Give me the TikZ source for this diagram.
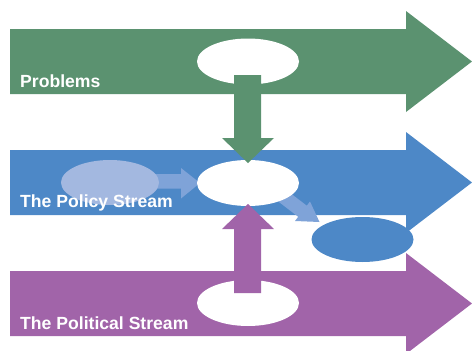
\documentclass[tikz,border=0pt]{standalone}
\usepackage{fontspec}
\setmainfont{Liberation Sans}
\usetikzlibrary{shapes.geometric}
\definecolor{cgreen}{RGB}{91,146,112}
\definecolor{cblue}{RGB}{77,136,199}
\definecolor{cpurple}{RGB}{161,100,169}
\definecolor{clightell}{RGB}{163,184,224}
\definecolor{clightarr}{RGB}{127,163,216}
\begin{document}
\begin{tikzpicture}[x=1pt,y=-1pt,
  blob/.style={ellipse,inner sep=0pt,minimum width=102pt,minimum height=46pt},
  lbl/.style={anchor=base west,text=white,font=\fontsize{17.6}{20}\selectfont\bfseries,inner sep=0pt}]
\useasboundingbox (0,0) rectangle (472,351);
\clip (0,0) rectangle (472,351);
% big stream arrows
\fill[cgreen] (10,29) -- (406,29) -- (406,11) -- (472,61.5) -- (406,112) -- (406,94) -- (10,94) -- cycle;
\fill[cblue] (10,150) -- (406,150) -- (406,132) -- (472,182.5) -- (406,233) -- (406,215) -- (10,215) -- cycle;
\fill[cpurple] (10,271) -- (406,271) -- (406,253) -- (472,303.5) -- (406,354) -- (406,336) -- (10,336) -- cycle;
% small light arrows
\fill[clightarr] (150,174) -- (181,174) -- (181,168) -- (200,183) -- (181,198.5) -- (181,188.5) -- (150,188.5) -- cycle;
\fill[clightarr] (287,190.5) -- (306.8,205.7) -- (310,201.5) -- (319.5,222) -- (295,221) -- (298.2,216.8) -- (278.4,201.6) -- cycle;
% ellipses
\node[blob,fill=clightell,minimum width=98pt,minimum height=45pt] (src) at (110,182.5) {};
\node[blob,fill=white] (prob) at (248,61.5) {};
\node[blob,fill=white] (pol) at (248,183) {};
\node[blob,fill=white] (polit) at (248,303) {};
\node[blob,fill=cblue,minimum height=45pt] (out) at (362.5,239.5) {};
% vertical arrows
\fill[cgreen] (234,75) -- (261,75) -- (261,138) -- (274,138) -- (248,163) -- (222,138) -- (234,138) -- cycle;
\fill[cpurple] (234,293) -- (261,293) -- (261,229) -- (274,229) -- (248,204) -- (222,229) -- (234,229) -- cycle;
% labels
\node[lbl] (t1) at (20,87) {Problems};
\node[lbl] (t2) at (20,207) {The Policy Stream};
\node[lbl] (t3) at (20,329) {The Political Stream};
\end{tikzpicture}
\end{document}
